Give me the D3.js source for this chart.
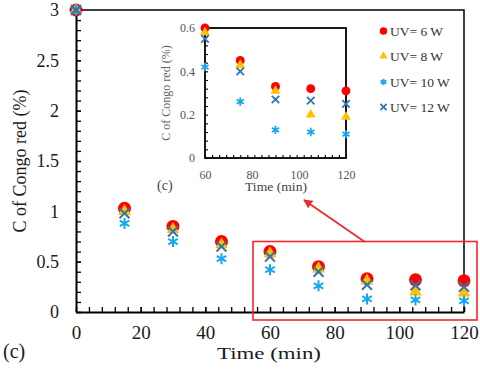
<!DOCTYPE html>
<html>
<head>
<meta charset="utf-8">
<script src="https://cdn.jsdelivr.net/npm/d3@7"></script>
<style>
  html, body { margin: 0; padding: 0; background: #fff; }
  svg { display: block; }
  text { font-family: "Liberation Serif", "Times New Roman", serif; }
</style>
</head>
<body>
<svg id="chart" width="480" height="372"></svg>
<script>
// datos
const times = [0, 15, 30, 45, 60, 75, 90, 105, 120];
const uv6  = [3, 1.03, 0.85, 0.70, 0.60, 0.45, 0.33, 0.32, 0.31];
const uv8  = [3, 1.00, 0.82, 0.67, 0.58, 0.43, 0.31, 0.20, 0.19];
const uv10 = [3, 0.88, 0.70, 0.53, 0.42, 0.26, 0.13, 0.12, 0.11];
const uv12 = [3, 0.98, 0.80, 0.65, 0.55, 0.40, 0.27, 0.265, 0.25];
const seriesNames = ['UV= 6 W', 'UV= 8 W', 'UV= 10 W', 'UV= 12 W'];
const xTicks = [0, 20, 40, 60, 80, 100, 120];
const yTicks = [0, 0.5, 1, 1.5, 2, 2.5, 3];
const xTicksInset = [60, 80, 100, 120];
const yTicksInset = [0, 0.2, 0.4, 0.6];

const SER = [
  { name: seriesNames[0], vals: uv6,  color: '#FF0000', type: d3.symbolCircle,   fill: true,  sz: [133, 62, 44] },
  { name: seriesNames[1], vals: uv8,  color: '#FFC000', type: d3.symbolTriangle, fill: true,  sz: [70, 42, 30] },
  { name: seriesNames[2], vals: uv10, color: '#16A8EE', type: d3.symbolAsterisk, fill: false, sz: [85, 48, 30] },
  { name: seriesNames[3], vals: uv12, color: '#2E75B6', type: d3.symbolTimes,    fill: false, sz: [66, 38, 26] },
];

const svg = d3.select('#chart');

function drawMarker(g, s, x, y, which) {
  const p = g.append('path')
    .attr('d', d3.symbol().type(s.type).size(s.sz[which])())
    .attr('transform', `translate(${x},${y})`);
  if (s.fill) p.attr('fill', s.color);
  else p.attr('fill', 'none').attr('stroke', s.color).attr('stroke-width', which === 0 ? 2 : 1.8);
}

// ---------- gráfico principal ----------
const x = d3.scaleLinear().domain([0, 120]).range([76, 464]);
const y = d3.scaleLinear().domain([0, 3]).range([312, 10]);

// marco superior y derecho
svg.append('path')
  .attr('d', `M${x(0)},${y(3)}H${x(120)}V${y(0)}`)
  .attr('fill', 'none').attr('stroke', '#000').attr('stroke-width', 1.5);

const minorX = d3.range(0, 121, 4);
const minorY = d3.range(0, 3.001, 0.1);

svg.append('g').attr('transform', `translate(0,${y(0)})`)
  .call(d3.axisBottom(x).tickValues(minorX).tickSize(-5).tickFormat(''))
  .call(g => g.select('.domain').remove())
  .selectAll('line').attr('stroke', '#000').attr('stroke-width', 1.3);
svg.append('g').attr('transform', `translate(${x(0)},0)`)
  .call(d3.axisLeft(y).tickValues(minorY).tickSize(-5).tickFormat(''))
  .call(g => g.select('.domain').remove())
  .selectAll('line').attr('stroke', '#000').attr('stroke-width', 1.3);

const xAxis = svg.append('g').attr('transform', `translate(0,${y(0)})`)
  .call(d3.axisBottom(x).tickValues(xTicks).tickSize(-5).tickSizeOuter(0).tickPadding(14).tickFormat(d3.format('d')));
const yAxis = svg.append('g').attr('transform', `translate(${x(0)},0)`)
  .call(d3.axisLeft(y).tickValues(yTicks).tickSize(-5).tickSizeOuter(0).tickPadding(17).tickFormat(d => String(d)));
[xAxis, yAxis].forEach(a => {
  a.select('.domain').attr('stroke', '#000').attr('stroke-width', 2);
  a.selectAll('line').attr('stroke', '#000').attr('stroke-width', 1.3);
  a.selectAll('text').attr('fill', '#1a1a1a');
});
xAxis.selectAll('text').style('font-size', '19px');
yAxis.selectAll('text').style('font-size', '18px');

svg.append('text').attr('x', 217).attr('y', 359)
  .attr('textLength', 104).attr('lengthAdjust', 'spacingAndGlyphs')
  .style('font-size', '16.5px').attr('fill', '#1a1a1a').text('Time (min)');
svg.append('text').attr('transform', 'translate(26,161) rotate(-90)').attr('text-anchor', 'middle')
  .style('font-size', '18px').attr('fill', '#1a1a1a').text('C of  Congo red (%)');
svg.append('text').attr('x', 3).attr('y', 358).style('font-size', '20px').attr('fill', '#1a1a1a').text('(c)');

// puntos principales
SER.forEach(s => {
  const g = svg.append('g');
  times.forEach((t, i) => drawMarker(g, s, x(t), y(s.vals[i]), 0));
});

// ---------- recuadro rojo y flecha ----------
svg.append('rect').attr('x', 253).attr('y', 241.5).attr('width', 224).attr('height', 78.5)
  .attr('fill', 'none').attr('stroke', '#F0282D').attr('stroke-width', 1.6);
svg.append('defs').append('marker').attr('id', 'ah')
  .attr('viewBox', '0 0 10 10').attr('refX', 9).attr('refY', 5)
  .attr('markerWidth', 5).attr('markerHeight', 5).attr('orient', 'auto')
  .append('path').attr('d', 'M0,0L10,5L0,10z').attr('fill', '#F0282D');
svg.append('line').attr('x1', 365).attr('y1', 242).attr('x2', 304).attr('y2', 200)
  .attr('stroke', '#F0282D').attr('stroke-width', 1.8).attr('marker-end', 'url(#ah)');

// ---------- inserto ----------
const xi = d3.scaleLinear().domain([60, 120]).range([205, 346]);
const yi = d3.scaleLinear().domain([0, 0.6]).range([158, 28]);

svg.append('rect').attr('x', xi(60)).attr('y', yi(0.6)).attr('width', xi(120) - xi(60)).attr('height', yi(0) - yi(0.6))
  .attr('fill', 'none').attr('stroke', '#000').attr('stroke-width', 1.8);

svg.append('g').attr('transform', `translate(0,${yi(0)})`)
  .call(d3.axisBottom(xi).tickValues(d3.range(60, 121, 3)).tickSize(-3).tickFormat(''))
  .call(g => g.select('.domain').remove())
  .selectAll('line').attr('stroke', '#000').attr('stroke-width', 1.1);
svg.append('g').attr('transform', `translate(${xi(60)},0)`)
  .call(d3.axisLeft(yi).tickValues(d3.range(0, 0.6001, 0.04)).tickSize(-3).tickFormat(''))
  .call(g => g.select('.domain').remove())
  .selectAll('line').attr('stroke', '#000').attr('stroke-width', 1.1);

const xiAxis = svg.append('g').attr('transform', `translate(0,${yi(0)})`)
  .call(d3.axisBottom(xi).tickValues(xTicksInset).tickSize(0).tickSizeOuter(0).tickPadding(12));
const yiAxis = svg.append('g').attr('transform', `translate(${xi(60)},0)`)
  .call(d3.axisLeft(yi).tickValues(yTicksInset).tickSize(0).tickSizeOuter(0).tickPadding(10).tickFormat(d => String(d)));
[xiAxis, yiAxis].forEach(a => {
  a.select('.domain').remove();
  a.selectAll('text').style('font-size', '12px').attr('fill', '#555');
});

svg.append('text').attr('x', 245).attr('y', 191)
  .attr('textLength', 62).attr('lengthAdjust', 'spacingAndGlyphs')
  .style('font-size', '12.5px').attr('fill', '#444').text('Time (min)');
svg.append('text').attr('x', 157).attr('y', 190).style('font-size', '14px').attr('fill', '#444').text('(c)');
svg.append('text').attr('transform', 'translate(170,93) rotate(-90)').attr('text-anchor', 'middle')
  .style('font-size', '12px').attr('fill', '#666').text('C of Congo red (%)');

SER.forEach(s => {
  const g = svg.append('g');
  times.forEach((t, i) => { if (t >= 60) drawMarker(g, s, xi(t), yi(s.vals[i]), 1); });
});

// leyenda
const legY = [31, 56, 82, 107];
SER.forEach((s, i) => {
  const g = svg.append('g');
  drawMarker(g, s, 383.5, legY[i], 2);
  g.append('text').attr('x', 390).attr('y', legY[i] + 5)
    .style('font-size', '13.5px').attr('fill', '#333').text(s.name);
});
</script>
</body>
</html>
